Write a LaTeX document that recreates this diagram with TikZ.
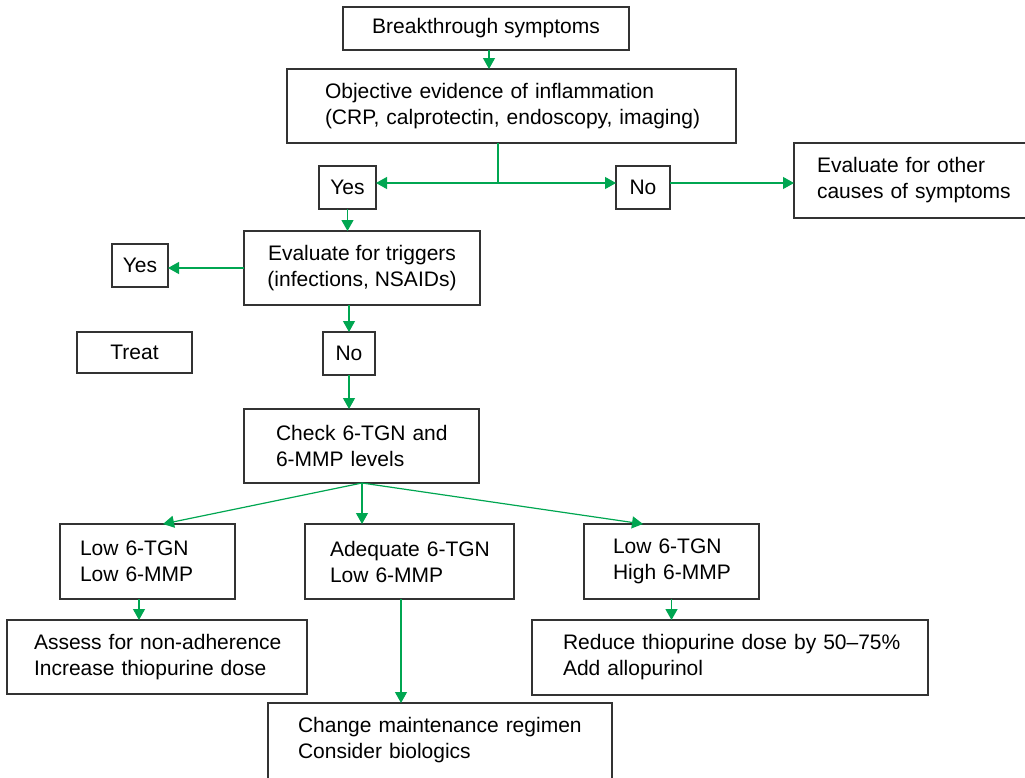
\documentclass[tikz,border=0pt]{standalone}
\usepackage{fontspec}
\setmainfont{Liberation Sans}
\usetikzlibrary{arrows.meta,calc}
\definecolor{flowgreen}{RGB}{0,166,81}
\definecolor{boxline}{RGB}{51,51,51}
% left-aligned text lines, each indented from the box's left edge
\newcommand\ind[1]{\hspace*{#1}}
\begin{document}
\begin{tikzpicture}[x=1pt,y=-1pt,
  box/.style={draw=boxline, line width=1.2pt, outer sep=0pt, inner ysep=0pt,
    inner xsep=0pt, anchor=north west, font=\fontsize{21}{26}\selectfont},
  cbox/.style n args={2}{box, minimum width=#1, minimum height=#2, align=center},
  lbox/.style n args={2}{box, text width=#1, minimum height=#2, align=left},
  flow/.style={draw=flowgreen, line width=1.2pt},
  arr/.style={flow, -{Triangle[length=11pt,width=12pt]}}]
\path[use as bounding box] (0,0) rectangle (1025,777);
\clip (0,0) rectangle (1025,777);

% boxes
\node[cbox={286pt}{43pt}] (bt) at (343,7) {Breakthrough symptoms};
\node[lbox={449pt}{74pt}] (obj) at (287,69)
  {\ind{38pt}Objective evidence of inflammation\\\ind{38pt}(CRP, calprotectin, endoscopy, imaging)};
\node[cbox={57pt}{43pt}] (yes1) at (319,166) {Yes};
\node[cbox={54pt}{43pt}] (no1) at (616,166) {No};
\node[lbox={240pt}{75pt}] (other) at (794,143)
  {\ind{23pt}Evaluate for other\\\ind{23pt}causes of symptoms};
\node[cbox={236pt}{74pt}] (trig) at (244,231)
  {Evaluate for triggers\\(infections, NSAIDs)};
\node[cbox={56pt}{43pt}] (yes2) at (112,244) {Yes};
\node[cbox={115pt}{41pt}] (treat) at (77,332) {Treat};
\node[cbox={52pt}{43pt}] (no2) at (323,332) {No};
\node[lbox={235pt}{74pt}] (check) at (244,409)
  {\ind{32pt}Check 6-TGN and\\\ind{32pt}6-MMP levels};
\node[lbox={175pt}{75pt}] (low) at (60,524)
  {\ind{20pt}Low 6-TGN\\\ind{20pt}Low 6-MMP};
\node[lbox={209pt}{75pt}] (adeq) at (305,524)
  {\ind{25pt}Adequate 6-TGN\\\ind{25pt}Low 6-MMP};
\node[lbox={175pt}{75pt}] (high) at (584,524)
  {\ind{29pt}Low 6-TGN\\\ind{29pt}High 6-MMP};
\node[lbox={300pt}{74pt}] (assess) at (7,620)
  {\ind{27pt}Assess for non-adherence\\\ind{27pt}Increase thiopurine dose};
\node[lbox={396pt}{75pt}] (reduce) at (532,620)
  {\ind{31pt}Reduce thiopurine dose by 50–75\%\\\ind{31pt}Add allopurinol};
\node[lbox={344pt}{74pt}, draw=none] (change) at (268,703)
  {\ind{30pt}Change maintenance regimen\\\ind{30pt}Consider biologics};
\draw[boxline, line width=1.2pt]
  ([yshift=-10pt]change.south west) -- (change.north west)
  -- (change.north east) -- ([yshift=-10pt]change.south east);

% connectors
\draw[arr] ([xshift=3pt]bt.south) -- ([xshift=3pt]bt.south |- obj.north);
\path ([xshift=-13.5pt]obj.south) coordinate (objfoot);
\coordinate (split) at (objfoot |- 0,183);
\draw[flow] (objfoot) -- (split);
\draw[arr] (split) -- (split -| yes1.east);
\draw[arr] (split) -- (split -| no1.west);
\draw[arr] (split -| no1.east) -- (split -| other.west);
\draw[arr] (yes1.south) -- (yes1.south |- trig.north);
\draw[arr] (trig.west) -- (trig.west -| yes2.east);
\draw[arr] (no2.north |- trig.south) -- (no2.north);
\draw[arr] (no2.south) -- (no2.south |- check.north);
\coordinate (fan) at ([xshift=0.5pt]check.south);
\draw[arr] (fan) -- ([xshift=15.5pt]low.north);
\draw[arr] (fan) -- (fan |- adeq.north);
\draw[arr] (fan) -- ([xshift=-28.5pt]high.north);
\draw[arr] ([xshift=-8.5pt]low.south) -- ([xshift=-8.5pt]low.south |- assess.north);
\draw[arr] ([xshift=-8.5pt]adeq.south) -- ([xshift=-8.5pt]adeq.south |- change.north);
\draw[arr] (high.south) -- (high.south |- reduce.north);
\end{tikzpicture}
\end{document}
